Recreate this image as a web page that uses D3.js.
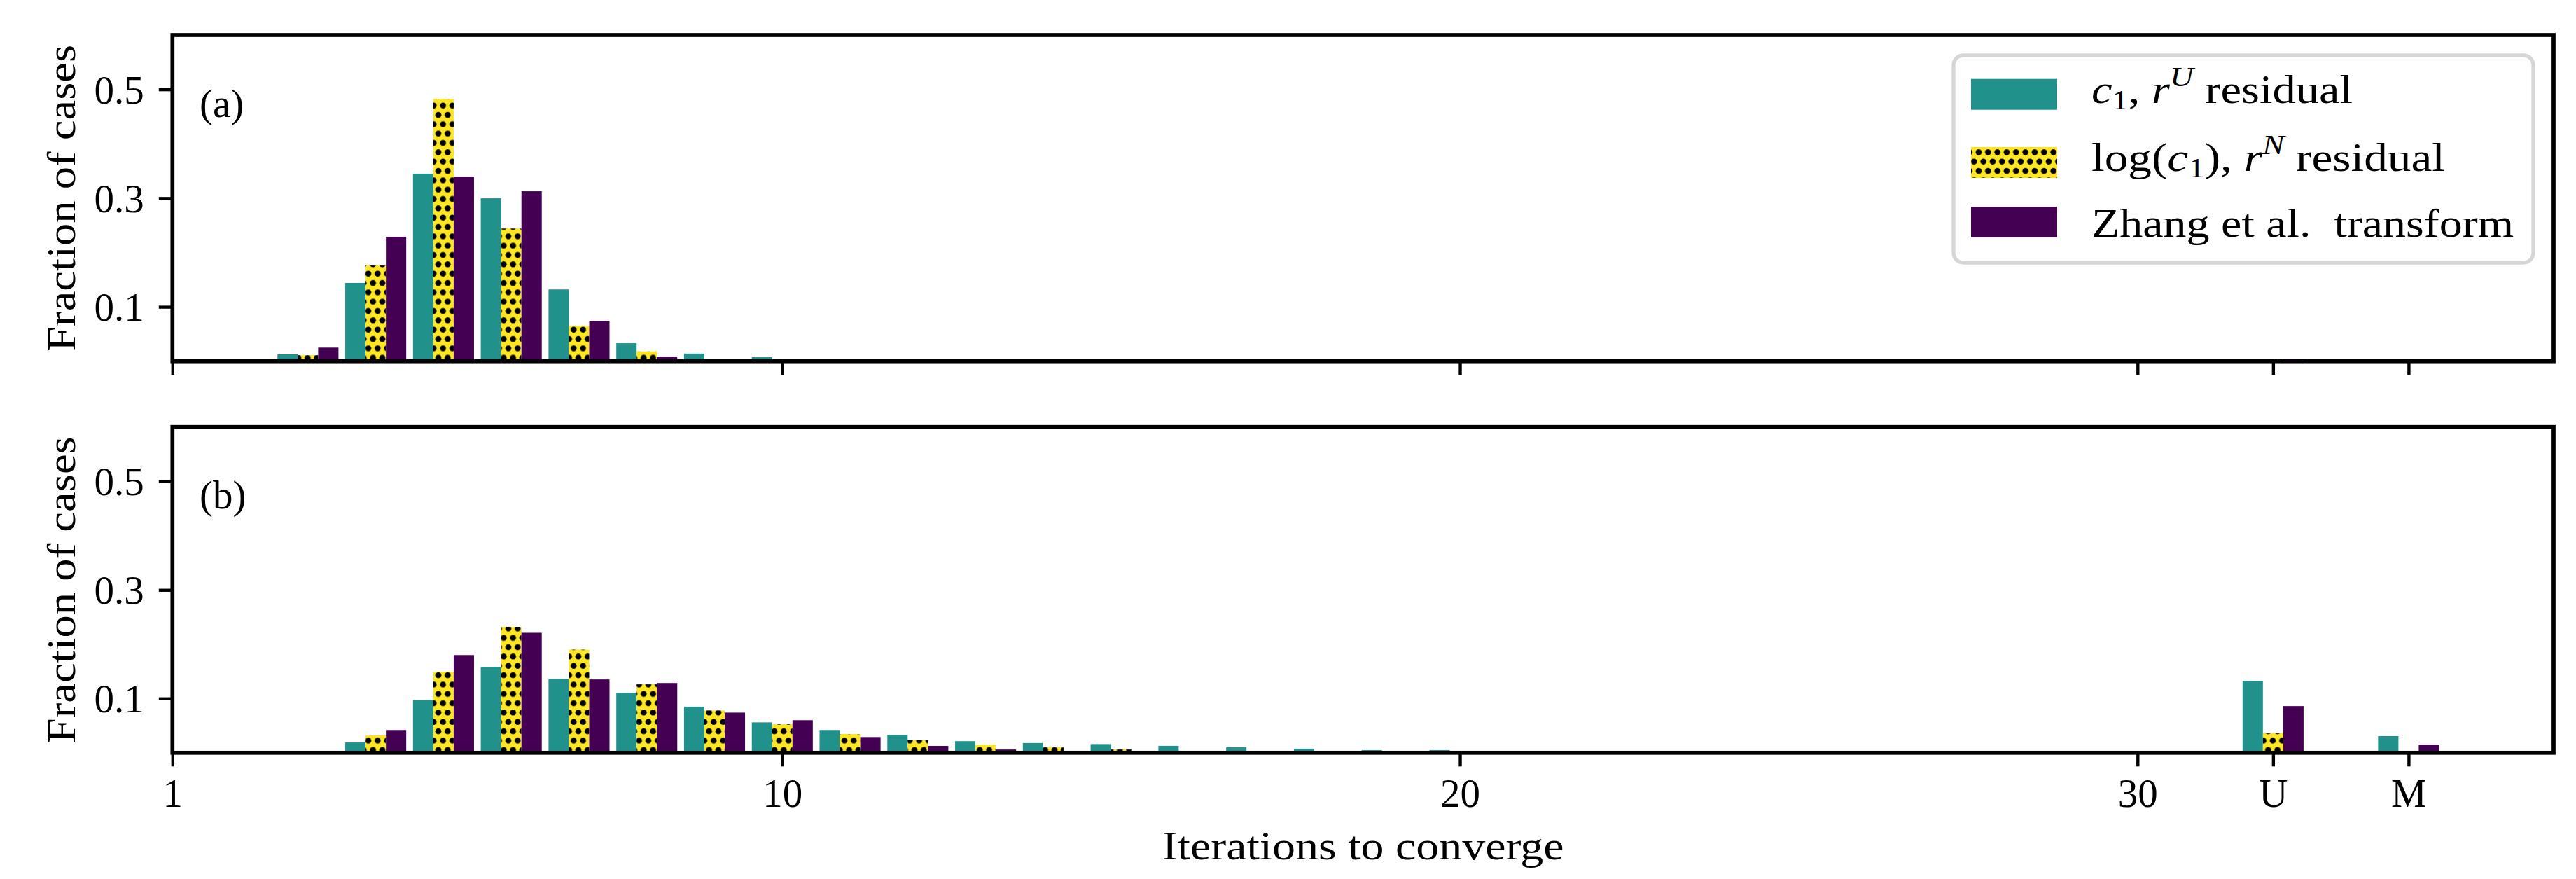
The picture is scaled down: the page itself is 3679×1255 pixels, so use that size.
<!DOCTYPE html>
<html>
<head>
<meta charset="utf-8">
<script src="https://cdn.jsdelivr.net/npm/d3@7"></script>
<style>
  html, body { margin: 0; padding: 0; background: #ffffff; }
  svg { display: block; }
  text { font-family: "Liberation Serif", "DejaVu Serif", serif; fill: #000; }
</style>
</head>
<body>
<svg id="chart" width="3679" height="1255"></svg>
<script>
// ---------------- data ----------------
const categories = [3, 4, 5, 6, 7, 8, 9, 10, 11, 12, 13, 14, 15, 16, 17, 18, 19, 20, "U", "M"];
const seriesNames = ["c1rU", "logc1rN", "zhang"];

// panel (a)
const panelA_c1rU    = [0.0125, 0.144, 0.345, 0.2997, 0.132, 0.033, 0.014, 0.0073, 0, 0, 0, 0, 0, 0, 0, 0, 0, 0, 0, 0];
const panelA_logc1rN = [0.011, 0.176, 0.4826, 0.244, 0.065, 0.018, 0, 0, 0, 0, 0, 0, 0, 0, 0, 0, 0, 0, 0, 0];
const panelA_zhang   = [0.025, 0.229, 0.3397, 0.3126, 0.074, 0.0086, 0, 0, 0, 0, 0, 0, 0, 0, 0, 0, 0, 0, 0.004, 0];

// panel (b)
const panelB_c1rU    = [0, 0.019, 0.097, 0.158, 0.136, 0.1105, 0.085, 0.056, 0.042, 0.033, 0.0214, 0.018, 0.016, 0.0128, 0.010, 0.0076, 0.005, 0.005, 0.1324, 0.0307];
const panelB_logc1rN = [0, 0.032, 0.149, 0.232, 0.19, 0.126, 0.078, 0.0525, 0.0345, 0.023, 0.0146, 0.010, 0.006, 0, 0, 0, 0, 0, 0.0358, 0.002];
const panelB_zhang   = [0, 0.042, 0.18, 0.221, 0.135, 0.1285, 0.074, 0.060, 0.029, 0.0126, 0.006, 0, 0, 0, 0, 0, 0, 0, 0.086, 0.0152];

const xTickValues = [1, 10, 20, 30, 32, 34];
const xTickLabels = ["1", "10", "20", "30", "U", "M"];
const yTickValues = [0.1, 0.3, 0.5];
const yTickLabels = ["0.1", "0.3", "0.5"];
const panelLabels = ["(a)", "(b)"];
const yLabel = "Fraction of cases";
const xLabel = "Iterations to converge";

// ---------------- layout / style ----------------
const colors = { c1rU: "#21918c", logc1rN: "#fde725", zhang: "#440154" };
const FS = 57;
const plotLeft = 246.3, plotRight = 3647;
const panels = [
  { top: 50, bottom: 515.7, values: { c1rU: panelA_c1rU, logc1rN: panelA_logc1rN, zhang: panelA_zhang }, showXLabels: false },
  { top: 609.7, bottom: 1074.8, values: { c1rU: panelB_c1rU, logc1rN: panelB_logc1rN, zhang: panelB_zhang }, showXLabels: true }
];
const barWidth = 0.3;
const seriesOffset = { c1rU: -0.3, logc1rN: 0, zhang: 0.3 };
const spineW = 5.7, tickW = 4.4, tickLen = 19.5;

const svg = d3.select("#chart");

// hatch pattern (black dots on yellow)
const defs = svg.append("defs");
const pat = defs.append("pattern")
  .attr("id", "dots")
  .attr("patternUnits", "userSpaceOnUse")
  .attr("x", -0.64).attr("y", 10.7)
  .attr("width", 13.333).attr("height", 26.667);
pat.append("rect").attr("width", 13.333).attr("height", 26.667).attr("fill", colors.logc1rN);
[[6.667, 6.667], [0, 20], [13.333, 20]].forEach(([cx, cy]) => {
  pat.append("circle").attr("cx", cx).attr("cy", cy).attr("r", 4.3).attr("fill", "#000");
});
const fillFor = s => s === "logc1rN" ? "url(#dots)" : colors[s];

const x = d3.scaleLinear().domain([1, 36.14]).range([plotLeft, plotRight]);
const catPos = c => typeof c === "number" ? c : xTickValues[xTickLabels.indexOf(c)];

panels.forEach((p, pi) => {
  const y = d3.scaleLinear().domain([0, 0.6]).range([p.bottom, p.top]);
  const g = svg.append("g");

  // bars
  seriesNames.forEach(s => {
    const data = categories.map((c, i) => ({ c, v: p.values[s][i] })).filter(d => d.v > 0);
    g.append("g").selectAll("rect").data(data).join("rect")
      .attr("x", d => x(catPos(d.c) + seriesOffset[s] - barWidth / 2))
      .attr("width", d => x(catPos(d.c) + barWidth / 2) - x(catPos(d.c) - barWidth / 2))
      .attr("y", d => y(d.v))
      .attr("height", d => y(0) - y(d.v))
      .attr("fill", fillFor(s));
  });

  // x axis ticks
  const xAxis = d3.axisBottom(x).tickValues(xTickValues)
    .tickFormat((d, i) => p.showXLabels ? xTickLabels[i] : "")
    .tickSizeInner(tickLen).tickSizeOuter(0).tickPadding(18);
  const gx = g.append("g").attr("transform", `translate(0,${p.bottom})`).call(xAxis);
  gx.select(".domain").remove();
  gx.selectAll(".tick line").attr("stroke", "#000").attr("stroke-width", tickW);
  gx.selectAll(".tick text").attr("font-size", FS).attr("font-family", "Liberation Serif").attr("fill", "#000")
    .attr("dy", null).attr("y", 77).attr("dominant-baseline", "auto");

  // y axis ticks
  const yAxis = d3.axisLeft(y).tickValues(yTickValues)
    .tickFormat((d, i) => yTickLabels[i])
    .tickSizeInner(tickLen).tickSizeOuter(0).tickPadding(21);
  const gy = g.append("g").attr("transform", `translate(${plotLeft},0)`).call(yAxis);
  gy.select(".domain").remove();
  gy.selectAll(".tick line").attr("stroke", "#000").attr("stroke-width", tickW);
  gy.selectAll(".tick text").attr("font-size", FS).attr("font-family", "Liberation Serif").attr("fill", "#000")
    .attr("dy", null).attr("y", 19.5).attr("dominant-baseline", "auto");

  // spines
  g.append("rect")
    .attr("x", plotLeft).attr("y", p.top)
    .attr("width", plotRight - plotLeft).attr("height", p.bottom - p.top)
    .attr("fill", "none").attr("stroke", "#000").attr("stroke-width", spineW);

  // panel label
  g.append("text").attr("x", 285).attr("y", p.top + 116.5).attr("font-size", FS).text(panelLabels[pi]);

  // y label
  const cy = (p.top + p.bottom) / 2;
  g.append("text")
    .attr("transform", `translate(107,${cy}) rotate(-90)`)
    .attr("text-anchor", "middle")
    .attr("font-size", FS)
    .attr("textLength", 438).attr("lengthAdjust", "spacingAndGlyphs")
    .text(yLabel);
});

// x label
svg.append("text")
  .attr("x", (plotLeft + plotRight) / 2).attr("y", 1227)
  .attr("text-anchor", "middle").attr("font-size", FS)
  .attr("textLength", 574).attr("lengthAdjust", "spacingAndGlyphs")
  .text(xLabel);

// ---------------- legend ----------------
const lg = svg.append("g");
lg.append("rect")
  .attr("x", 2790).attr("y", 79).attr("width", 828).attr("height", 296)
  .attr("rx", 14).attr("ry", 14)
  .attr("fill", "#ffffff").attr("fill-opacity", 0.85)
  .attr("stroke", "#d6d6d6").attr("stroke-width", 5.3);

const legendRows = [
  { s: "c1rU", patchY: 112.7, base: 147, width: 373,
    parts: [["c", "italic", 0, 1], ["1", "normal", 9, 0.7], [", ", "normal", -9, 1], ["r", "italic", 0, 1], ["U", "italic", -24, 0.7], [" residual", "normal", 24, 1]] },
  { s: "logc1rN", patchY: 210, base: 243.5, width: 505,
    parts: [["log(", "normal", 0, 1], ["c", "italic", 0, 1], ["1", "normal", 9, 0.7], ["), ", "normal", -9, 1], ["r", "italic", 0, 1], ["N", "italic", -24, 0.7], [" residual", "normal", 24, 1]] },
  { s: "zhang", patchY: 295, base: 337.5, width: 603,
    parts: [["Zhang et al.  transform", "normal", 0, 1]] }
];
legendRows.forEach(r => {
  lg.append("rect").attr("x", 2815).attr("y", r.patchY).attr("width", 123).attr("height", 44)
    .attr("fill", fillFor(r.s));
  const t = lg.append("text").attr("x", 2987).attr("y", r.base).attr("font-size", FS)
    .attr("xml:space", "preserve").style("white-space", "pre")
    .attr("textLength", r.width).attr("lengthAdjust", "spacingAndGlyphs");
  r.parts.forEach(([txt, style, dy, scale]) => {
    t.append("tspan").attr("font-style", style).attr("dy", dy)
      .attr("font-size", FS * scale).text(txt);
  });
});
</script>
</body>
</html>
